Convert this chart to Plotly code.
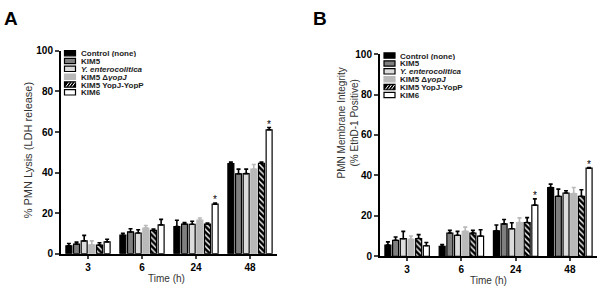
import plotly.graph_objects as go

W, H = 600, 295

times = ["3", "6", "24", "48"]
series = ["Control (none)", "KIM5", "<i>Y. enterocolitica</i>",
          "KIM5 \u0394<i>yopJ</i>", "KIM5 YopJ-YopP", "KIM6"]

# Panel A: % PMN lysis (LDH release) - means and upper error-bar ends
a_control = [3.9, 9.1, 13.4, 44.4]
a_kim5 = [4.7, 10.7, 14.6, 39.4]
a_yent = [6.3, 10.2, 14.5, 39.5]
a_dyopj = [4.4, 12.6, 16.5, 41.7]
a_yopjp = [4.2, 11.5, 14.6, 44.6]
a_kim6 = [5.8, 14.2, 24.4, 61.1]
a_control_hi = [5.0, 10.1, 16.5, 45.2]
a_kim5_hi = [5.7, 12.3, 15.4, 41.7]
a_yent_hi = [9.0, 11.8, 16.0, 41.7]
a_dyopj_hi = [6.3, 13.9, 17.6, 44.0]
a_yopjp_hi = [5.4, 12.1, 15.1, 45.2]
a_kim6_hi = [7.1, 16.9, 25.0, 62.2]
a_stars = ["", "", "*", "*"]

# Panel B: PMN membrane integrity (% EthD-1 positive)
b_control = [5.5, 4.9, 12.6, 34.0]
b_kim5 = [7.9, 11.5, 16.0, 29.7]
b_yent = [8.7, 10.4, 13.6, 31.3]
b_dyopj = [8.4, 12.3, 16.7, 31.0]
b_yopjp = [8.8, 11.5, 16.7, 29.7]
b_kim6 = [5.2, 10.0, 25.3, 43.6]
b_control_hi = [7.1, 5.8, 15.5, 35.7]
b_kim5_hi = [9.5, 12.8, 18.2, 33.2]
b_yent_hi = [12.3, 12.3, 16.6, 32.4]
b_dyopj_hi = [10.0, 14.4, 19.0, 34.0]
b_yopjp_hi = [10.7, 12.8, 19.1, 32.9]
b_kim6_hi = [6.8, 13.1, 28.4, 43.9]
b_stars = ["", "", "*", "*"]

y_ticks = [0, 20, 40, 60, 80, 100]

FONT = "Liberation Sans, Arial, sans-serif"

styles = [
    dict(fill="#000000", line="#000000", err="#000000", pattern=None),
    dict(fill="#7f7f7f", line="#000000", err="#000000", pattern=None),
    dict(fill="#dcdcdc", line="#000000", err="#000000", pattern=None),
    dict(fill="#b9b9b9", line="#b9b9b9", err="#b9b9b9", pattern=None),
    dict(fill="#000000", line="#000000", err="#000000", pattern="\\"),
    dict(fill="#ffffff", line="#000000", err="#000000", pattern=None),
]

A_means = [a_control, a_kim5, a_yent, a_dyopj, a_yopjp, a_kim6]
A_hi = [a_control_hi, a_kim5_hi, a_yent_hi, a_dyopj_hi, a_yopjp_hi, a_kim6_hi]
B_means = [b_control, b_kim5, b_yent, b_dyopj, b_yopjp, b_kim6]
B_hi = [b_control_hi, b_kim5_hi, b_yent_hi, b_dyopj_hi, b_yopjp_hi, b_kim6_hi]


def px(x):
    return x / W


def py(y):
    return 1 - y / H


fig = go.Figure()

BARGAP = 0.15
GROUPGAP = 0.22


def add_panel(means, his, xa, ya):
    for name, m, hi, st in zip(series, means, his, styles):
        marker = dict(color=st["fill"], line=dict(color=st["line"], width=1.2))
        if st["pattern"]:
            marker["pattern"] = dict(shape=st["pattern"], fgcolor="#ffffff",
                                     bgcolor="#000000", size=4, solidity=0.35,
                                     fillmode="replace")
        fig.add_trace(go.Bar(
            x=times, y=m, name=name, marker=marker, showlegend=False,
            xaxis=xa, yaxis=ya, hoverinfo="skip",
            error_y=dict(type="data", symmetric=False,
                         array=[h - v for h, v in zip(hi, m)],
                         arrayminus=[0] * len(m),
                         color=st["err"], thickness=1.6, width=2),
        ))


add_panel(A_means, A_hi, "x", "y")
add_panel(B_means, B_hi, "x2", "y2")

slot = (1 - BARGAP) / len(series)
kim6_off = (len(series) - 1 - (len(series) - 1) / 2) * slot

annotations = []
shapes = []

for stars, hi, xr, yr in [(a_stars, a_kim6_hi, "x", "y"), (b_stars, b_kim6_hi, "x2", "y2")]:
    for i, (s, h) in enumerate(zip(stars, hi)):
        if s:
            annotations.append(dict(x=i + kim6_off, y=h, xref=xr, yref=yr, text=s,
                                    showarrow=False, xanchor="center", yanchor="bottom",
                                    yshift=-4,
                                    font=dict(family=FONT, size=10, color="#000000")))

axis_common = dict(showline=True, linewidth=2, linecolor="#000", mirror=False,
                   showgrid=False, zeroline=False,
                   tickfont=dict(family=FONT, size=10, color="#000", weight="bold"))

fig.update_layout(
    width=W, height=H,
    margin=dict(l=0, r=0, t=0, b=0),
    paper_bgcolor="white", plot_bgcolor="white",
    barmode="group", bargap=BARGAP, bargroupgap=GROUPGAP,
    showlegend=False, hovermode=False,
    xaxis=dict(domain=[px(61), px(277)], anchor="y", type="category",
               range=[-0.5, 3.5], ticks="outside", ticklen=3, tickwidth=1.5,
               **axis_common),
    yaxis=dict(domain=[py(258.3), py(47.7)], anchor="x", range=[0, 100],
               tickvals=y_ticks, ticks="outside", ticklen=4, tickwidth=2,
               **axis_common),
    xaxis2=dict(domain=[px(380), px(597)], anchor="y2", type="category",
                range=[-0.5, 3.5], ticks="outside", ticklen=3, tickwidth=1.5,
                **axis_common),
    yaxis2=dict(domain=[py(261), py(51)], anchor="x2", range=[0, 100],
                tickvals=y_ticks, ticks="outside", ticklen=4, tickwidth=2,
                **axis_common),
)


def pann(x, y, text, font, **kw):
    d = dict(x=px(x), y=py(y), xref="paper", yref="paper", text=text,
             showarrow=False, xanchor="center", yanchor="middle", font=font)
    d.update(kw)
    return d


annotations += [
    pann(11, 14, "<b>A</b>", dict(family=FONT, size=19, color="#000")),
    pann(320, 14, "<b>B</b>", dict(family=FONT, size=19, color="#000")),
    pann(28, 151, "% PMN Lysis (LDH release)",
         dict(family=FONT, size=11, color="#333"), textangle=-90),
    pann(348, 123, "PMN Membrane Integrity<br>(% EthD-1 Positive)",
         dict(family=FONT, size=10, color="#333"), textangle=-90),
    pann(166, 284, "Time (h)", dict(family=FONT, size=10, color="#333")),
    pann(488, 286, "Time (h)", dict(family=FONT, size=10, color="#333")),
]


def add_legend(x0, y0, step, sw=11, sh=5.5):
    for k, (name, st) in enumerate(zip(series, styles)):
        yc = y0 + k * step
        x1 = x0 + sw
        shapes.append(dict(type="rect", xref="paper", yref="paper",
                           x0=px(x0), x1=px(x1), y0=py(yc + sh / 2), y1=py(yc - sh / 2),
                           fillcolor=st["fill"],
                           line=dict(color=st["line"], width=1.2)))
        if st["pattern"]:
            for d in [1.5, 4.5, 7.5]:
                shapes.append(dict(type="line", xref="paper", yref="paper",
                                   x0=px(x0 + d), y0=py(yc + sh / 2 - 0.6),
                                   x1=px(x0 + d + 3), y1=py(yc - sh / 2 + 0.6),
                                   line=dict(color="#fff", width=1)))
        annotations.append(pann(x1 + 3, yc, "<b>" + name + "</b>",
                                dict(family=FONT, size=8, color="#222"),
                                xanchor="left", height=8, valign="middle"))


add_legend(64.5, 50, 8.15)
add_legend(384, 52.5, 8.2)

fig.update_layout(annotations=annotations, shapes=shapes)

fig.write_html(
    "out.html",
    config={"displayModeBar": False},
    post_script="document.body.style.margin='0';document.body.style.overflow='hidden';",
)
